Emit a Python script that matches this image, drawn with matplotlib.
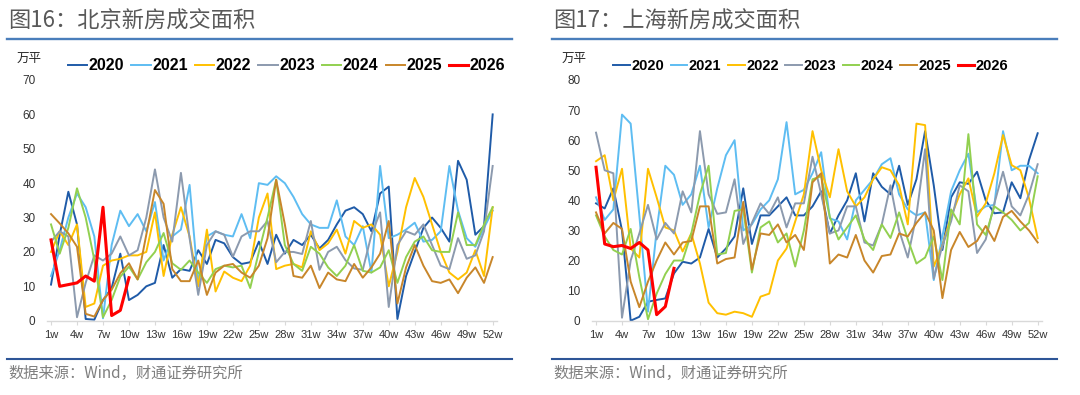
import matplotlib
matplotlib.use('Agg')
import matplotlib.pyplot as plt
from matplotlib.lines import Line2D

W, H = 1080, 395

WEEKS = list(range(1, 53))
TICK_WEEKS = list(range(1, 53, 3))
TICK_LABELS = [f'{w}w' for w in TICK_WEEKS]
YEARS = ['2020', '2021', '2022', '2023', '2024', '2025', '2026']
COLORS = ['#1F5BA8', '#5EBDF2', '#FFC000', '#8C9AAE', '#92D050', '#C8862A', '#FF0000']

# 北京 (万平)
BJ_2020 = [10.5, 25, 37.5, 28, 0.5, 0.3, 6, 9.5, 19.5, 6, 7.5, 10, 11, 22, 12.5, 15, 14.5, 20.5,
           16.5, 23.5, 22.5, 18.5, 16.5, 17, 23, 16.5, 25, 19.5, 23.5, 22, 25, 21, 23.5, 28, 32, 33,
           31, 26, 37, 39, 0.5, 13, 20, 27, 30, 27, 23, 46.5, 41, 25, 27.5, 60]
BJ_2021 = [13, 20.5, 30, 37, 33, 24.5, 0.7, 22, 32, 27.5, 31, 26, 34.5, 17.5, 24.5, 26.5, 39.5, 11,
           24.5, 26, 25, 24.5, 31, 24, 40, 39.5, 42, 40, 36, 31, 28, 27, 27, 35, 24.5, 22, 27.5, 14,
           45, 24, 25, 26.5, 28.5, 23, 23.5, 26, 45, 32, 24, 21.5, 27, 32]
BJ_2022 = [20, 26, 22, 28, 4, 5, 16, 17.5, 18, 19, 19, 20, 31.5, 13, 25, 33, 24.5, 10, 26.5, 8.5,
           14.3, 12.5, 11.5, 16, 30, 37, 15, 16, 16.5, 15.5, 26, 20.5, 22.5, 26.5, 19.5, 29, 27, 28,
           25, 10, 20, 33, 41.5, 36, 28, 20, 14, 12, 14, 20.5, 13, 33]
BJ_2023 = [23, 26, 24.5, 1, 11, 19, 17.5, 19.5, 24.5, 19, 20.5, 30, 44, 30, 23, 43, 24, 7.5, 22, 26,
           25, 18.6, 24.5, 26, 26, 29, 17, 20, 20, 19.4, 29, 14.8, 20, 21.5, 17.6, 15.2, 14.8, 25,
           31.5, 4, 22, 26, 25, 28, 22, 16, 15, 24, 18, 19, 26, 45]
BJ_2024 = [28, 19.5, 27, 38.5, 30, 17.7, 1, 6, 12.8, 15.7, 12, 17, 20, 25.5, 16.7, 14.8, 17.5, 14,
           11, 15, 16, 15.5, 16, 9.5, 20, 30, 41, 22, 16.5, 14.5, 21.5, 19.5, 15.5, 13, 16, 22,
           14.5, 14, 15.5, 20.5, 11, 18.5, 23, 24.5, 20.5, 20, 20, 31.5, 22, 22, 28, 33]
BJ_2025 = [31, 28.3, 25.4, 21.5, 2, 1.2, 6, 9, 13.8, 16.7, 12, 25, 38, 34, 15, 11.5, 11.5, 17.5,
           7.5, 14, 16, 16.5, 14, 12.5, 16, 24, 41, 28, 13, 12.5, 16, 9.5, 14, 12, 11.5, 16.5, 12.5,
           15.5, 19.5, 29, 5, 15.5, 22, 16, 11.5, 11, 12, 8, 12.5, 15.5, 11, 18.5]
BJ_2026 = [23.5, 10, 10.5, 11, 13, 11.5, 33, 1.5, 3, 12.5]

# 上海 (万平)
SH_2020 = [39, 37.3, 44, 30, 0, 1.3, 6.3, 6.9, 7.4, 15.7, 19.6, 19, 21, 30.5, 21, 24, 28, 44, 25.5,
           35, 35, 38, 41, 35, 35, 38, 43, 29, 35, 40, 49, 33, 49, 44.5, 42, 51.5, 38.5, 47, 63, 45,
           23.5, 41, 46, 45.5, 49.5, 40, 35.7, 36, 46, 40.7, 53.4, 62.3]
SH_2021 = [41, 33.5, 37, 68.5, 65.5, 35, 3, 30, 51.5, 48.5, 38.5, 42, 51.5, 31, 44, 55, 60, 30, 32,
           37, 40, 47, 66, 42, 43.5, 49, 56, 34, 33, 27, 40, 43.5, 47, 52, 54, 42, 37, 35, 36, 13.5,
           28, 43, 50, 55.5, 36, 38, 38.5, 63, 50, 51.5, 51.5, 49]
SH_2022 = [53, 55, 40, 50.5, 24, 21, 50.5, 41, 31, 30, 23, 29, 19, 6, 2.5, 2, 3, 2.5, 1.3, 8, 9, 20,
           24, 33, 42, 63, 50, 41, 57, 43, 38, 41, 47, 51, 50, 45, 32, 65.5, 65, 18, 25, 34.6, 42,
           47.3, 34.6, 39, 49, 61.7, 51.7, 50, 40.7, 27.4]
SH_2023 = [62.5, 50, 49, 1, 20, 29, 38.5, 27, 32.5, 29, 43, 36, 63, 42, 35.5, 36, 47, 25.5, 32.5,
           39, 35.5, 41, 31, 39, 39, 54.5, 42, 29, 30, 38, 38, 26, 25, 32, 45, 30, 21, 35, 57, 14,
           25, 33, 45, 43, 22.5, 27, 39, 49.5, 38, 35, 42, 52]
SH_2024 = [35, 28, 23.5, 22, 30.5, 14.5, 0.5, 9, 15.5, 20, 20, 29, 42, 51.5, 22, 22.5, 36.5, 37, 16,
           31, 33, 26, 29, 18, 30, 47, 48, 34.5, 27, 31, 35, 27, 23.5, 32, 27.5, 36, 27, 19, 21, 28,
           13.5, 37, 32, 62, 32, 28.5, 38, 36, 33.5, 30, 32.5, 48]
SH_2025 = [36, 29, 32.5, 30.5, 13, 4.5, 13, 20, 26, 22, 26, 26.5, 38, 38, 19, 20.5, 21, 39.5, 17,
           29, 28.5, 32, 26, 28.5, 23.5, 46, 49, 19, 22, 21, 28.5, 20, 16, 21.5, 22, 29, 28, 32.5,
           36, 30, 7.5, 23.5, 29.5, 24.5, 26.5, 31.5, 26.5, 34.5, 36.5, 33, 30, 26]
SH_2026 = [51, 25.5, 24.6, 25, 24, 26, 23.5, 2, 4.7, 17.4]

BJ_SERIES = [BJ_2020, BJ_2021, BJ_2022, BJ_2023, BJ_2024, BJ_2025, BJ_2026]
SH_SERIES = [SH_2020, SH_2021, SH_2022, SH_2023, SH_2024, SH_2025, SH_2026]

CJK = ['Noto Sans CJK SC', 'DejaVu Sans']
LATIN = 'Liberation Sans'


def fx(x):
    return x / W


def fy(y):
    return 1 - y / H


def draw_panel(fig, off, title, series, ymax, leg_x, leg_fs, leg_hl, leg_cs):
    ax = fig.add_axes([fx(46.7 + off), fy(320.7), 450.3 / W, 240.7 / H])

    handles = []
    for year, vals, color in zip(YEARS, series, COLORS):
        lw = 2.2 if year == '2026' else 1.4
        h, = ax.plot(WEEKS[:len(vals)], vals, color=color, lw=lw,
                     solid_joinstyle='round')
        handles.append(h)

    ax.set_xlim(0.5, 52.5)
    ax.set_ylim(0, ymax)
    ax.set_xticks(TICK_WEEKS)
    ax.set_xticklabels(TICK_LABELS, family=LATIN, fontsize=8, color='#333333')
    ax.set_yticks(range(0, ymax + 1, 10))
    ax.set_yticklabels([str(v) for v in range(0, ymax + 1, 10)],
                       family=LATIN, fontsize=8.5, color='#333333')
    ax.tick_params(axis='y', length=0, pad=8)
    ax.tick_params(axis='x', length=3, color='#D9D9D9', pad=4)
    for s in ['top', 'right', 'left']:
        ax.spines[s].set_visible(False)
    ax.spines['bottom'].set_color('#D9D9D9')
    ax.spines['bottom'].set_linewidth(1)

    ax.legend(handles, YEARS, ncol=7, loc='center left',
              bbox_to_anchor=(fx(leg_x), fy(66)), bbox_transform=fig.transFigure,
              frameon=False, prop={'family': LATIN, 'weight': 'bold', 'size': leg_fs},
              handlelength=leg_hl, handletextpad=0.1, columnspacing=leg_cs,
              borderpad=0, borderaxespad=0)

    fig.text(fx(8 + off), fy(21), title, fontsize=16, color='#595959',
             va='center', ha='left', family=CJK)
    fig.add_artist(Line2D([fx(7 + off), fx(512 + off)], [fy(38.7)] * 2,
                          color='#4A7EBB', lw=1.7))
    fig.text(fx(17 + off), fy(58), '万平', fontsize=9, color='#262626',
             va='center', ha='left', family=CJK)
    fig.add_artist(Line2D([fx(7 + off), fx(512 + off)], [fy(359)] * 2,
                          color='#2E5597', lw=1.5))
    fig.text(fx(8 + off), fy(373), '数据来源：Wind，财通证券研究所', fontsize=11,
             color='#7F7F7F', va='center', ha='left', family=CJK)
    return ax


fig = plt.figure(figsize=(W / 100, H / 100), dpi=100)
fig.patch.set_facecolor('white')

draw_panel(fig, 0, '图16：北京新房成交面积', BJ_SERIES, 70,
           leg_x=68, leg_fs=11.5, leg_hl=1.2, leg_cs=0.45)
draw_panel(fig, 545, '图17：上海新房成交面积', SH_SERIES, 80,
           leg_x=613, leg_fs=10.5, leg_hl=1.15, leg_cs=0.45)

fig.savefig('out.png', dpi=100, facecolor='white')
